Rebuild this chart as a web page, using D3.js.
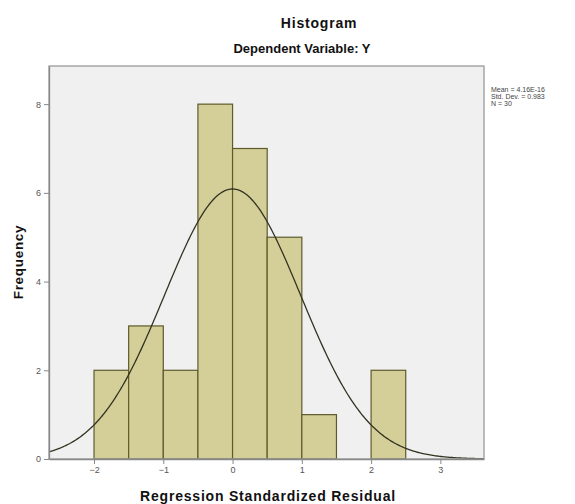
<!DOCTYPE html>
<html>
<head>
<meta charset="utf-8">
<script src="https://cdn.jsdelivr.net/npm/d3@7"></script>
<style>
  html, body { margin: 0; padding: 0; background: #ffffff; }
  svg { display: block; }
  text { font-family: "Liberation Sans", Arial, sans-serif; }
</style>
</head>
<body>
<svg id="chart" width="575" height="504"></svg>
<script>
// ---- data ----
const binStarts = [-2, -1.5, -1, -0.5, 0, 0.5, 1, 1.5, 2];
const binWidth = 0.5;
const counts = [2, 3, 2, 8, 7, 5, 1, 0, 2];
const xTicks = [-2, -1, 0, 1, 2, 3];
const yTicks = [0, 2, 4, 6, 8];
const statLines = ["Mean = 4.16E-16", "Std. Dev. = 0.983", "N = 30"];
const meanVal = 4.16e-16, sdVal = 0.983, nVal = 30;

const svg = d3.select("#chart");
const plot = { left: 49, right: 484, top: 66, bottom: 459 };

const x = d3.scaleLinear().domain([-2.65, 3.63]).range([plot.left, plot.right]);
const y = d3.scaleLinear().domain([0, 8.86]).range([plot.bottom, plot.top]);

// background
svg.append("rect")
  .attr("x", plot.left).attr("y", plot.top)
  .attr("width", plot.right - plot.left).attr("height", plot.bottom - plot.top)
  .attr("fill", "#f0f0f0");

// bars
const bins = binStarts.map((s, i) => ({ x0: s, x1: s + binWidth, n: counts[i] }));
svg.append("g").selectAll("rect")
  .data(bins.filter(d => d.n > 0))
  .join("rect")
  .attr("x", d => x(d.x0))
  .attr("width", d => x(d.x1) - x(d.x0))
  .attr("y", d => y(d.n))
  .attr("height", d => y(0) - y(d.n))
  .attr("fill", "#d4cf98")
  .attr("stroke", "#5e5a2c")
  .attr("stroke-width", 1.2);

// normal curve
const pdf = v => nVal * binWidth / (sdVal * Math.sqrt(2 * Math.PI)) *
  Math.exp(-0.5 * Math.pow((v - meanVal) / sdVal, 2));
const xs = d3.range(x.domain()[0], x.domain()[1] + 0.001, 0.02);
svg.append("path")
  .datum(xs)
  .attr("fill", "none")
  .attr("stroke", "#333322")
  .attr("stroke-width", 1.3)
  .attr("d", d3.line().x(v => x(v)).y(v => y(pdf(v))));

// frame
svg.append("rect")
  .attr("x", plot.left).attr("y", plot.top)
  .attr("width", plot.right - plot.left).attr("height", plot.bottom - plot.top)
  .attr("fill", "none").attr("stroke", "#9a9a9a").attr("stroke-width", 1.3);

// axes
const yAxis = d3.axisLeft(y).tickValues(yTicks).tickSizeInner(5).tickSizeOuter(0)
  .tickPadding(3).tickFormat(d3.format("d"));
const gy = svg.append("g").attr("transform", `translate(${plot.left},0)`).call(yAxis);
const xAxis = d3.axisBottom(x).tickValues(xTicks).tickSizeInner(5).tickSizeOuter(0)
  .tickPadding(3).tickFormat(d3.format("d"));
const gx = svg.append("g").attr("transform", `translate(0,${plot.bottom})`).call(xAxis);
[gy, gx].forEach(g => {
  g.select(".domain").attr("stroke", "#888").attr("stroke-width", 1.3);
  g.selectAll(".tick line").attr("stroke", "#888");
  g.selectAll(".tick text").attr("fill", "#555").style("font-size", "9px")
    .style("font-family", "'Liberation Sans', Arial, sans-serif");
});

// titles
svg.append("text").attr("x", 319).attr("y", 28).attr("text-anchor", "middle")
  .attr("font-weight", "bold").attr("font-size", 14).attr("letter-spacing", 0.8)
  .attr("fill", "#111").text("Histogram");
svg.append("text").attr("x", 302).attr("y", 53).attr("text-anchor", "middle")
  .attr("font-weight", "bold").attr("font-size", 13).attr("fill", "#111").text("Dependent Variable: Y");
svg.append("text").attr("x", 268).attr("y", 501).attr("text-anchor", "middle")
  .attr("font-weight", "bold").attr("font-size", 14).attr("letter-spacing", 0.8)
  .attr("fill", "#111").text("Regression Standardized Residual");
svg.append("text").attr("transform", "translate(23,262) rotate(-90)").attr("text-anchor", "middle")
  .attr("font-weight", "bold").attr("font-size", 13.5).attr("letter-spacing", 0.7)
  .attr("fill", "#111").text("Frequency");

// stats
svg.append("g").selectAll("text").data(statLines).join("text")
  .attr("x", 491).attr("y", (d, i) => 92 + i * 7)
  .attr("font-size", 7).attr("fill", "#444").text(d => d);
</script>
</body>
</html>
